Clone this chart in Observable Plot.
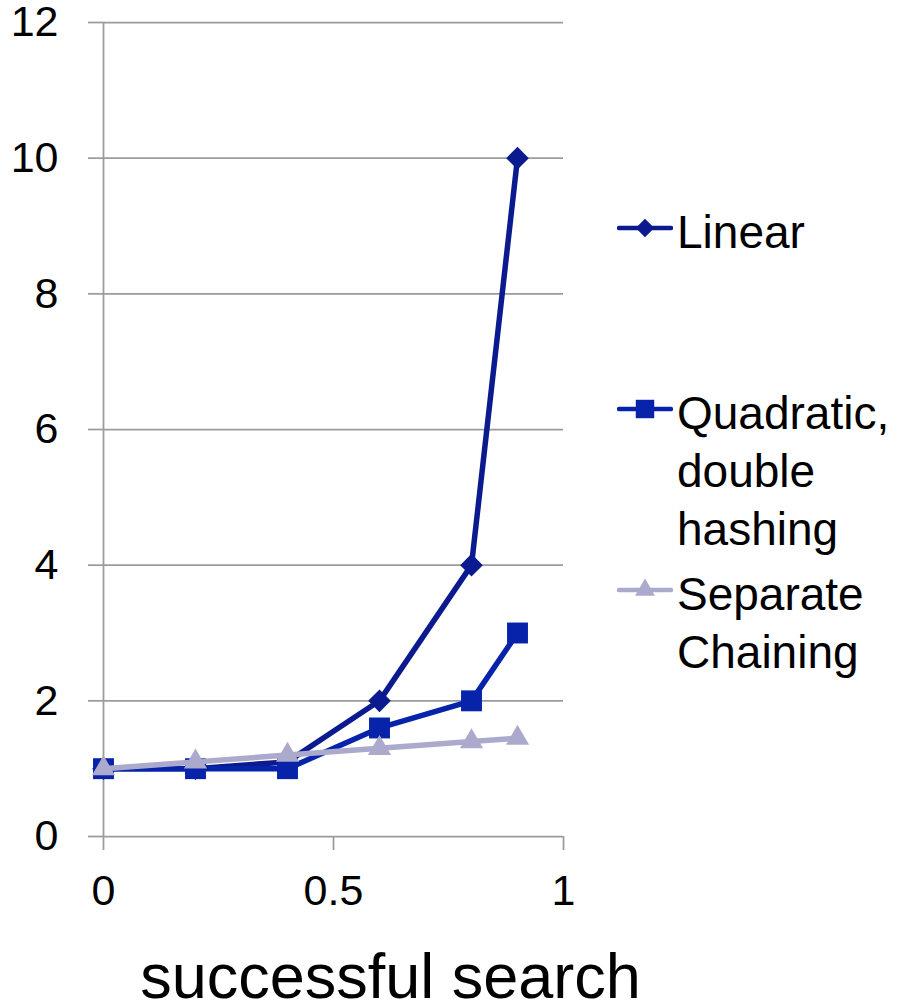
<!DOCTYPE html>
<html><head><meta charset="utf-8">
<script src="https://cdn.jsdelivr.net/npm/d3@7"></script>
<script src="https://cdn.jsdelivr.net/npm/@observablehq/plot@0.6"></script>
<style>
body{margin:0;background:#fff;font-family:"Liberation Sans",Arial,sans-serif;}
#wrap{position:relative;width:898px;height:1003px;overflow:hidden;}
.leg{position:absolute;left:617px;width:281px;color:#000;}
.leg svg{position:absolute;left:0;top:10px;}
.leg .txt{position:absolute;left:60px;top:0;font-size:46px;line-height:58px;white-space:nowrap;}
</style></head><body><div id="wrap"></div>
<script>
const xs = [0, 0.2, 0.4, 0.6, 0.8, 0.9];
const linear = [1, 1, 1.1, 2, 4, 10];
const quadratic = [1, 1, 1, 1.6, 2, 3];
const separate = [1, 1.1, 1.2, 1.3, 1.4, 1.45];
const seriesNames = ["Linear", "Quadratic,\ndouble\nhashing", "Separate\nChaining"];
const seriesColors = ["#0b1a8f", "#0623a9", "#abaacd"];
const seriesSymbols = ["diamond2", "square", "triangle"];
const seriesR = [10.2, 11.8, 8.6];
const yTicks = [0, 2, 4, 6, 8, 10, 12];
const xTicks = [0, 0.5, 1];
const xLabel = "successful search";
const legendTops = [203, 384, 565];

const seriesValues = [linear, quadratic, separate];
const grid = "#9b9b9b";

const marks = [
  Plot.ruleY(yTicks, {stroke: grid, strokeWidth: 1.75}),
  Plot.ruleX([0], {stroke: grid, strokeWidth: 1.75}),
  Plot.axisY({ticks: yTicks, tickSize: 15, tickPadding: 30, stroke: grid, strokeWidth: 1.75, fill: "black", fontSize: 43, tickFormat: d => String(d), label: null}),
  Plot.axisX({ticks: xTicks, tickSize: 14, tickPadding: 24, stroke: grid, strokeWidth: 1.75, fill: "black", fontSize: 43, tickFormat: d => String(d), label: null})
];
seriesValues.forEach((vals, i) => {
  const rows = xs.map((x, j) => ({x, y: vals[j]}));
  marks.push(Plot.line(rows, {x: "x", y: "y", stroke: seriesColors[i], strokeWidth: 5.5, strokeLinejoin: "round"}));
  marks.push(Plot.dot(rows, {x: "x", y: "y", symbol: seriesSymbols[i], fill: seriesColors[i], stroke: "none", r: seriesR[i]}));
});
marks.push(Plot.text([xLabel], {frameAnchor: "bottom", lineAnchor: "bottom", dy: 161, dx: 57, fontSize: 63, fill: "black"}));

const chart = Plot.plot({
  width: 898, height: 1003,
  marginLeft: 103, marginRight: 335, marginTop: 22, marginBottom: 167,
  x: {domain: [0, 1], label: null},
  y: {domain: [0, 12], label: null},
  style: {fontFamily: '"Liberation Sans", Arial, sans-serif', color: "black", background: "white", overflow: "visible"},
  marks
});
const wrap = document.getElementById("wrap");
wrap.appendChild(chart);

const symMap = {diamond2: d3.symbolDiamond2, square: d3.symbolSquare, triangle: d3.symbolTriangle};
const legSizes = [220, 340, 170];
seriesNames.forEach((name, i) => {
  const div = document.createElement("div");
  div.className = "leg";
  div.style.top = legendTops[i] + "px";
  const svg = d3.create("svg").attr("width", 56).attr("height", 30);
  svg.append("line").attr("x1", 2).attr("x2", 54).attr("y1", 15).attr("y2", 15)
    .attr("stroke", seriesColors[i]).attr("stroke-width", 4.5).attr("stroke-linecap", "round");
  svg.append("path").attr("transform", "translate(28,15)")
    .attr("d", d3.symbol(symMap[seriesSymbols[i]], legSizes[i])()).attr("fill", seriesColors[i]);
  div.appendChild(svg.node());
  const t = document.createElement("div");
  t.className = "txt";
  t.innerHTML = name.split("\n").join("<br>");
  div.appendChild(t);
  wrap.appendChild(div);
});
</script></body></html>
